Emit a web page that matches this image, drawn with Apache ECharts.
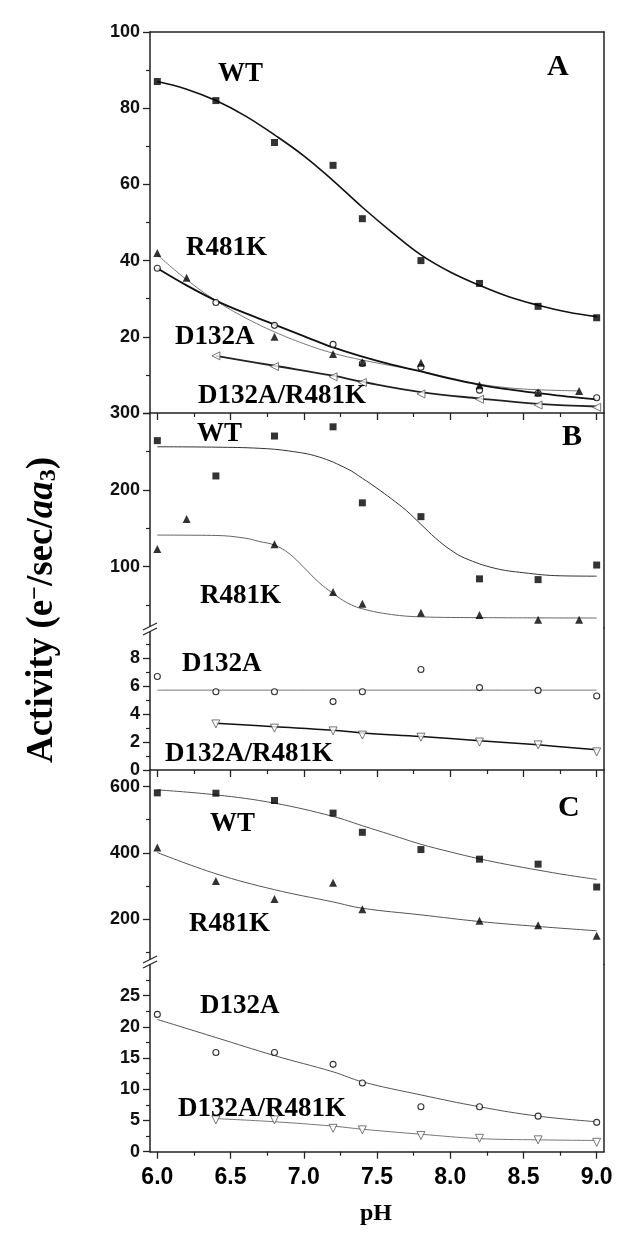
<!DOCTYPE html>
<html><head><meta charset="utf-8">
<script src="https://cdn.jsdelivr.net/npm/echarts@6/dist/echarts.min.js"></script>
<style>html,body{margin:0;padding:0;background:#fff}#c{width:634px;height:1247px}</style>
</head><body><div id="c"></div>
<script>
// ---------- DATA ----------
const phMain   = [6.0, 6.4, 6.8, 7.2, 7.4, 7.8, 8.2, 8.6, 9.0];
const phDouble = [6.4, 6.8, 7.2, 7.4, 7.8, 8.2, 8.6, 9.0];
const phR481K  = [6.0, 6.2, 6.8, 7.2, 7.4, 7.8, 8.2, 8.6, 8.88];
const phR481KC = [6.0, 6.4, 6.8, 7.2, 7.4, 8.2, 8.6, 9.0];

// Panel A
const wtA     = [87, 82, 71, 65, 51, 40, 34, 28, 25];
const r481kA  = [42, 35.5, 20, 15.5, 13.3, 13.2, 7.3, 5.4, 5.8];
const d132aA  = [38, 29, 23, 18, 13, 12, 6, 5.2, 4];
const dblA    = [15, 12.2, 9.5, 8, 5, 3.6, 2.1, 1.5];
const fitX_A  = [6.0, 6.2, 6.4, 6.6, 6.8, 7.0, 7.2, 7.4, 7.6, 7.8, 8.0, 8.2, 8.4, 8.6, 8.8, 9.0];
const wtA_fit    = [87, 85, 82, 78, 73, 67.5, 61, 54, 47.5, 41.5, 37, 33.5, 30.5, 28.3, 26.5, 25.3];
const d132aA_fit = [38, 33.5, 29.5, 26.2, 23.2, 20.2, 17.2, 14.8, 12.7, 10.9, 9, 7.4, 6.2, 5.2, 4.3, 3.6];
const r481kA_fitX = [6.0, 6.2, 6.4, 6.6, 6.8, 7.0, 7.2, 7.4, 7.6, 7.8, 8.0, 8.2, 8.4, 8.6, 8.88];
const r481kA_fit  = [41.5, 35, 29.5, 25, 21.3, 18.2, 15.7, 13.9, 12.4, 11.0, 9.2, 7.6, 6.6, 6.1, 5.8];
const dblA_fit    = [15.0, 12.4, 9.8, 8.2, 5.5, 3.8, 2.4, 1.7];

// Panel B
const wtB     = [264, 218, 270, 282, 183, 165, 84, 83, 102];
const r481kB  = [123, 162, 129, 67, 51.5, 40, 37, 30.6, 30.6];
const d132aB  = [6.7, 5.6, 5.6, 4.9, 5.6, 7.2, 5.9, 5.7, 5.3];
const dblB    = [3.3, 3.0, 2.8, 2.5, 2.35, 2.0, 1.8, 1.3];
const wtB_fitX = [6.0, 6.4, 6.7, 6.9, 7.1, 7.3, 7.4, 7.5, 7.6, 7.7, 7.8, 7.9, 8.0, 8.1, 8.3, 8.5, 8.75, 9.0];
const wtB_fit  = [256, 255.5, 254, 250.5, 243, 227, 215, 202, 188, 173, 155, 137, 122, 111, 98, 92, 88, 87.5];
const r481kB_fitX = [6.0, 6.4, 6.6, 6.7, 6.8, 6.9, 7.0, 7.1, 7.2, 7.3, 7.4, 7.6, 7.8, 8.2, 9.0];
const r481kB_fit  = [141, 140.5, 137, 132.5, 128, 117, 99, 80, 65, 52.5, 45, 37.5, 34.5, 33.5, 33];
const d132aB_fitX = [6.0, 9.0];
const d132aB_fit  = [5.72, 5.72];
const dblB_fit    = [3.35, 3.1, 2.85, 2.65, 2.4, 2.1, 1.8, 1.45];

// Panel C
const wtC     = [581, 580, 558, 520, 462, 410, 381, 366, 297];
const r481kC  = [416, 315, 261, 310, 230, 195, 182, 150];
const d132aC  = [22, 15.9, 15.9, 14.0, 11.0, 7.2, 7.2, 5.7, 4.7];
const dblC    = [5.1, 5.1, 3.75, 3.5, 2.6, 2.15, 1.9, 1.5];
const wtC_fitX = [6.0, 6.4, 6.8, 7.2, 7.4, 7.6, 7.8, 8.0, 8.2, 8.4, 8.6, 8.8, 9.0];
const wtC_fit  = [590, 575, 550, 510, 482, 454, 426, 403, 382, 364, 348, 333, 320];
const r481kC_fit = [401, 337, 289, 252, 233, 213, 193, 178, 165];
const d132aC_fit = [21.2, 18.3, 15.4, 12.8, 11.2, 9.1, 7.2, 5.7, 4.8];
const dblC_fit   = [5.3, 4.8, 4.1, 3.6, 2.8, 2.1, 1.9, 1.8];

// Ticks
const xMajor = [6.0, 6.5, 7.0, 7.5, 8.0, 8.5, 9.0];
const xMinor = [6.25, 6.75, 7.25, 7.75, 8.25, 8.75];
const xTickLabels = ['6.0', '6.5', '7.0', '7.5', '8.0', '8.5', '9.0'];
const yMajor = [[0, 20, 40, 60, 80, 100], [100, 200, 300], [0, 2, 4, 6, 8], [200, 400, 600], [0, 5, 10, 15, 20, 25]];
const yLabels = [[20, 40, 60, 80, 100], [100, 200, 300], [0, 2, 4, 6, 8], [200, 400, 600], [0, 5, 10, 15, 20, 25]];
const yMinor = [[10, 30, 50, 70, 90], [50, 150, 250], [1, 3, 5, 7, 9], [100, 300, 500], [2.5, 7.5, 12.5, 17.5, 22.5, 27.5]];
const yRange = [[0, 100], [20, 300], [0, 10.17], [63.3, 650], [0, 30]];

// ---------- LAYOUT ----------
const gridBox = [
  {top: 32, height: 381},
  {top: 413, height: 215},
  {top: 628, height: 142},
  {top: 770, height: 194.5},
  {top: 964.5, height: 187.2}
];
const AX = '#222';
const sans = 'Liberation Sans', serif = 'Liberation Serif';
const pairs = (xs, ys) => xs.map((x, i) => [x, ys[i]]);

const grid = gridBox.map(g => ({left: 150, width: 454, top: g.top, height: g.height, show: false, outerBoundsMode: 'none'}));

const xAxis = [];
const withXLine = [true, false, true, false, true];
for (let i = 0; i < 5; i++) {
  xAxis.push({
    type: 'value', gridIndex: i, min: 5.95, max: 9.05, position: 'bottom', show: withXLine[i],
    axisLine: {show: true, onZero: false, lineStyle: {color: AX, width: 1.5}},
    axisTick: {show: true, inside: false, length: 7, customValues: xMajor, lineStyle: {color: AX, width: 1.3}},
    axisLabel: {show: i === 4, customValues: xMajor, margin: 14,
      formatter: v => xTickLabels[xMajor.indexOf(v)],
      fontFamily: sans, fontWeight: 'bold', fontSize: 23, color: '#000'},
    splitLine: {show: false}
  });
}
for (let i = 0; i < 5; i++) {
  xAxis.push({
    type: 'value', gridIndex: i, min: 5.95, max: 9.05, position: 'bottom', show: withXLine[i],
    axisLine: {show: false, onZero: false},
    axisTick: {show: true, inside: false, length: 4, customValues: xMinor, lineStyle: {color: AX, width: 1.2}},
    axisLabel: {show: false}, splitLine: {show: false}
  });
}
xAxis.push({type: 'value', gridIndex: 0, min: 5.95, max: 9.05, position: 'top',
  axisLine: {show: true, onZero: false, lineStyle: {color: AX, width: 1.5}},
  axisTick: {show: false}, axisLabel: {show: false}, splitLine: {show: false}});

const yAxis = [];
for (let i = 0; i < 5; i++) {
  yAxis.push({
    type: 'value', gridIndex: i, min: yRange[i][0], max: yRange[i][1], position: 'left',
    axisLine: {show: true, onZero: false, lineStyle: {color: AX, width: 1.5}},
    axisTick: {show: true, inside: false, length: 7, customValues: yMajor[i], lineStyle: {color: AX, width: 1.3}},
    axisLabel: {show: true, customValues: yLabels[i], margin: 10,
      fontFamily: sans, fontWeight: 'bold', fontSize: 18, color: '#111'},
    splitLine: {show: false}
  });
}
for (let i = 0; i < 5; i++) {
  yAxis.push({
    type: 'value', gridIndex: i, min: yRange[i][0], max: yRange[i][1], position: 'left',
    axisLine: {show: false, onZero: false},
    axisTick: {show: true, inside: false, length: 4, customValues: yMinor[i], lineStyle: {color: AX, width: 1.2}},
    axisLabel: {show: false}, splitLine: {show: false}
  });
}
for (let i = 0; i < 5; i++) {
  yAxis.push({
    type: 'value', gridIndex: i, min: yRange[i][0], max: yRange[i][1], position: 'right',
    axisLine: {show: true, onZero: false, lineStyle: {color: AX, width: 1.5}},
    axisTick: {show: false}, axisLabel: {show: false}, splitLine: {show: false}
  });
}

// ---------- SERIES ----------
const series = [];
function fit(g, xs, ys, color, width) {
  series.push({type: 'line', xAxisIndex: g, yAxisIndex: g, data: pairs(xs, ys),
    showSymbol: false, smooth: 0.4, silent: true, z: 2,
    lineStyle: {color: color, width: width}});
}
const SQ = {symbol: 'rect', symbolSize: 7, itemStyle: {color: '#000'}};
const TR = {symbol: 'triangle', symbolSize: 8, itemStyle: {color: '#000'}};
const CI = {symbol: 'circle', symbolSize: 6, itemStyle: {color: '#fff', borderColor: '#000', borderWidth: 1.1}};
const LT = {symbol: 'triangle', symbolSize: 8, symbolRotate: 90, itemStyle: {color: '#fff', borderColor: '#555', borderWidth: 1}};
const DT = {symbol: 'triangle', symbolSize: 8, symbolRotate: 180, itemStyle: {color: '#fff', borderColor: '#555', borderWidth: 1}};
function pts(g, xs, ys, st) {
  series.push(Object.assign({type: 'scatter', xAxisIndex: g, yAxisIndex: g, data: pairs(xs, ys), z: 3, silent: true}, st));
}

// A
fit(0, fitX_A, wtA_fit, '#111', 1.6);
fit(0, r481kA_fitX, r481kA_fit, '#777', 1);
fit(0, fitX_A, d132aA_fit, '#111', 1.8);
fit(0, phDouble, dblA_fit, '#222', 1.8);
pts(0, phMain, wtA, SQ);
pts(0, phMain, d132aA, CI);
pts(0, phR481K, r481kA, TR);
pts(0, phDouble, dblA, LT);
// B
fit(1, wtB_fitX, wtB_fit, '#333', 1);
fit(1, r481kB_fitX, r481kB_fit, '#666', 1);
fit(2, d132aB_fitX, d132aB_fit, '#777', 1);
fit(2, phDouble, dblB_fit, '#111', 1.5);
pts(1, phMain, wtB, SQ);
pts(1, phR481K, r481kB, TR);
pts(2, phMain, d132aB, CI);
pts(2, phDouble, dblB, DT);
// C
fit(3, wtC_fitX, wtC_fit, '#555', 1);
fit(3, phMain, r481kC_fit, '#555', 1);
fit(4, phMain, d132aC_fit, '#555', 1);
fit(4, phDouble, dblC_fit, '#777', 1);
pts(3, phMain, wtC, SQ);
pts(3, phR481KC, r481kC, TR);
pts(4, phMain, d132aC, CI);
pts(4, phDouble, dblC, DT);

// ---------- ANNOTATIONS ----------
const annotations = [
  ['WT', 218, 74.5, 27], ['A', 547, 67, 30], ['R481K', 186, 248.5, 27], ['D132A', 175, 337.5, 27], ['D132A/R481K', 198, 396.5, 27],
  ['WT', 197, 434.5, 27], ['B', 562, 437, 30], ['R481K', 200, 596.5, 27], ['D132A', 182, 664.5, 27], ['D132A/R481K', 165, 754.5, 27],
  ['C', 558, 808, 30], ['WT', 210, 824.5, 27], ['R481K', 189, 924.5, 27], ['D132A', 200, 1006.5, 27], ['D132A/R481K', 178, 1109.5, 27]
];
const graphic = annotations.map(a => ({type: 'text', x: a[1], y: a[2], z: 10, silent: true,
  style: {text: a[0], fontFamily: serif, fontWeight: 'bold', fontSize: a[3], fill: '#000',
    align: 'left', verticalAlign: 'middle', textAlign: 'left', textVerticalAlign: 'middle'}}));

graphic.push({type: 'text', x: 376, y: 1214, z: 10, silent: true,
  style: {text: 'pH', fontFamily: serif, fontWeight: 'bold', fontSize: 24, fill: '#000',
    align: 'center', verticalAlign: 'middle', textAlign: 'center', textVerticalAlign: 'middle'}});
graphic.push({type: 'text', x: 42, y: 610, rotation: Math.PI / 2, z: 10, silent: true,
  style: {text: '{n|Activity (e}{sup|−}{n|/sec/}{it|aa}{sub|3}{n|)}',
    align: 'center', verticalAlign: 'middle', textAlign: 'center', textVerticalAlign: 'middle', fill: '#000',
    rich: {
      n: {fontFamily: serif, fontWeight: 'bold', fontSize: 37, fill: '#000'},
      it: {fontFamily: serif, fontWeight: 'bold', fontStyle: 'italic', fontSize: 37, fill: '#000'},
      sup: {fontFamily: serif, fontWeight: 'bold', fontSize: 24, fill: '#000', verticalAlign: 'top'},
      sub: {fontFamily: serif, fontWeight: 'bold', fontSize: 24, fill: '#000', verticalAlign: 'bottom'}
    }}});

[629, 962].forEach(cy => {
  graphic.push({type: 'polygon', z: 11, silent: true,
    shape: {points: [[143, cy + 1], [157, cy - 6], [157, cy - 1], [143, cy + 6]]}, style: {fill: '#fff'}});
  graphic.push({type: 'line', z: 12, silent: true, shape: {x1: 143, y1: cy + 1, x2: 157, y2: cy - 6}, style: {stroke: AX, lineWidth: 1.2}});
  graphic.push({type: 'line', z: 12, silent: true, shape: {x1: 143, y1: cy + 6, x2: 157, y2: cy - 1}, style: {stroke: AX, lineWidth: 1.2}});
});

const chart = echarts.init(document.getElementById('c'), null, {renderer: 'canvas'});
chart.setOption({animation: false, backgroundColor: '#fff', grid, xAxis, yAxis, series, graphic});
</script>
</body></html>
